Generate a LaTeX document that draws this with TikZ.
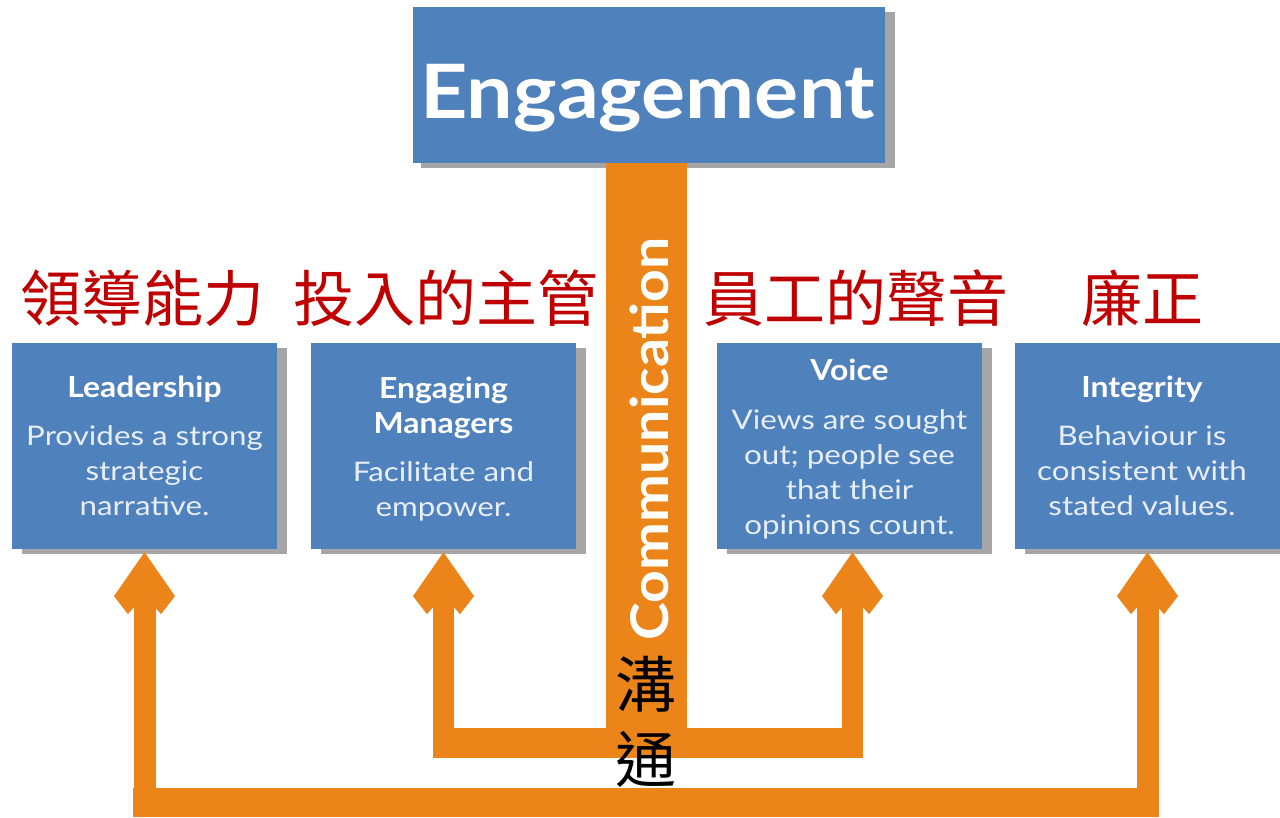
\documentclass[tikz,border=0pt]{standalone}
\usepackage{fontspec}
\setmainfont{Lato}
\newfontfamily\headf{Lato}[FakeStretch=1.1]
\newfontfamily\bodyf{Lato}[FakeStretch=1.16]
\newfontfamily\cjk{Noto Sans CJK TC}
\usetikzlibrary{shadows,calc}
\definecolor{boxblue}{RGB}{79,129,189}
\definecolor{shadowgray}{RGB}{166,166,166}
\definecolor{orangec}{RGB}{236,133,25}
\definecolor{bodywhite}{RGB}{232,238,247}
\definecolor{zhred}{RGB}{192,0,0}
\newcommand\ahead[2]{%
  \fill[orangec] ([xshift=#2pt,yshift=-3pt]#1.south) -- ++(30.5,44) -- ++(-14,18) -- ++(-6,-7)
    -- ++(-21,0) -- ++(-6,7) -- ++(-14,-18) -- cycle;}
\tikzset{
  box/.style={fill=boxblue, draw=none, inner sep=0pt, minimum width=265pt, minimum height=206pt,
    drop shadow={shadow xshift=10pt, shadow yshift=-5pt, fill=shadowgray, opacity=1}},
  ttl/.style={text=white, font=\headf\bfseries\fontsize{29}{35}\selectfont, align=center, inner sep=0pt},
  bdy/.style={text=bodywhite, font=\bodyf\fontsize{27}{35}\selectfont, align=center, inner sep=0pt},
  zh/.style={text=zhred, font=\cjk\fontsize{61}{61}\selectfont, inner sep=0pt},
  shaft/.style={draw=orangec, line width=21pt},
  hbar/.style={draw=orangec, line width=30pt}
}
\begin{document}
\begin{tikzpicture}[x=1pt,y=-1pt]
\useasboundingbox[fill=white] (0,0) rectangle (1280,818);
% boxes
\node[box, minimum width=472pt, minimum height=156pt,
  drop shadow={shadow xshift=8pt, shadow yshift=-5pt, fill=shadowgray, opacity=1}] (eng) at (649,85) {};
\node[box] (lead)  at (144.5,446) {};
\node[box] (mgr)   at (443.5,446) {};
\node[box] (voice) at (849.5,446) {};
\node[box] (integ) at (1147.5,446) {};
% coordinates for bars
\coordinate (innerY) at (0,743);
\coordinate (innerB) at (0,758);
\coordinate (outerY) at (0,802.5);
\coordinate (outerB) at (0,817);
% communication bar
\draw[draw=orangec, line width=81pt] ([xshift=-2.5pt]eng.south) -- ([xshift=-2.5pt]eng.south |- innerB);
% inner connectors
\ahead{mgr}{0}
\ahead{voice}{3}
\draw[shaft] ([yshift=-48pt]mgr.south) -- (mgr.south |- innerB);
\draw[shaft] ([xshift=3pt,yshift=-48pt]voice.south) -- ($(voice.south |- innerB)+(3,0)$);
\draw[hbar] ($(mgr.south |- innerY)+(-10.5,0)$) -- ($(voice.south |- innerY)+(13.5,0)$);
% outer connectors
\ahead{lead}{0}
\ahead{integ}{0}
\draw[shaft, line width=22pt] ([yshift=-48pt]lead.south) -- (lead.south |- outerB);
\draw[shaft, line width=22pt] ([yshift=-48pt]integ.south) -- (integ.south |- outerB);
\draw[hbar, line width=29pt] ($(lead.south |- outerY)+(-11.5,0)$) -- ($(integ.south |- outerY)+(11,0)$);
% texts
\node[text=white, font=\headf\bfseries\fontsize{75}{75}\selectfont, inner sep=0pt] (engt) at (648,98) {Engagement};
\node[text=white, font=\headf\bfseries\fontsize{52}{52}\selectfont, inner sep=0pt, rotate=90] (commt) at (649,439) {Communication};
\node[ttl] (leadt) at (144.5,389) {Leadership};
\node[bdy] (leadb) at (144.5,471) {Provides a strong\\strategic\\narrative.};
\node[ttl] (mgrt) at (443.5,408) {Engaging\\Managers};
\node[bdy] (mgrb) at (443.5,491) {Facilitate and\\empower.};
\node[ttl] (voicet) at (849.5,370) {Voice};
\node[bdy] (voiceb) at (849.5,474) {Views are sought\\out; people see\\that their\\opinions count.};
\node[ttl] (integt) at (1142,389) {Integrity};
\node[bdy] (integb) at (1142,471) {Behaviour is\\consistent with\\stated values.};
% Chinese labels
\node[zh] (zh1) at (142,298) {領導能力};
\node[zh] (zh2) at (446,298) {投入的主管};
\node[zh] (zh3) at (856,298) {員工的聲音};
\node[zh] (zh4) at (1142,298) {廉正};
\node[text=black, font=\cjk\fontsize{61}{75}\selectfont, align=center, inner sep=0pt] (zh5) at (646,722) {溝\\通};
\end{tikzpicture}
\end{document}
